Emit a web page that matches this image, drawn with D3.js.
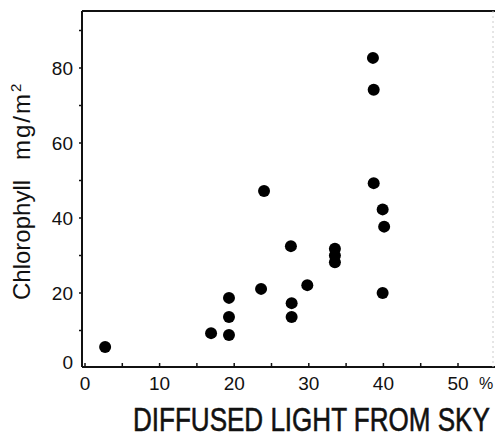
<!DOCTYPE html>
<html><head><meta charset="utf-8">
<script src="https://cdn.jsdelivr.net/npm/d3@7"></script>
<style>body{margin:0;background:#fff}svg{display:block}</style>
</head><body>
<svg id="c" width="495" height="441"></svg>
<script>
const lightPct = [2.7, 16.9, 19.3, 19.3, 19.3, 23.6, 24.0, 27.6, 27.7, 27.7, 29.8, 33.5, 33.5, 33.5, 38.6, 38.7, 38.7, 39.9, 40.1, 39.9];
const chlorophyll = [5.6, 9.3, 18.7, 13.6, 8.8, 21.1, 47.2, 32.5, 17.3, 13.6, 22.1, 31.8, 30.0, 28.2, 82.7, 74.2, 49.3, 42.3, 37.7, 20.0];
const xTickLabels = ["0", "10", "20", "30", "40", "50"];
const yTickLabels = ["0", "20", "40", "60", "80"];

const svg = d3.select("#c");
const x = d3.scaleLinear().domain([0, 50]).range([85, 458]);
const y = d3.scaleLinear().domain([0, 80]).range([368, 68]);
const L = 82, T = 11, B = 367, R = 493;
const font = "'Liberation Sans', Arial, sans-serif";

// frame
svg.append("line").attr("x1", L).attr("x2", 495).attr("y1", T).attr("y2", T).attr("stroke", "#111").attr("stroke-width", 2);
svg.append("line").attr("x1", L).attr("x2", L).attr("y1", T).attr("y2", B).attr("stroke", "#111").attr("stroke-width", 2);
svg.append("line").attr("x1", L).attr("x2", 495).attr("y1", B).attr("y2", B).attr("stroke", "#111").attr("stroke-width", 2);
svg.append("line").attr("x1", R).attr("x2", R).attr("y1", T).attr("y2", B).attr("stroke", "#ccc").attr("stroke-width", 1).attr("stroke-dasharray", "2,3");

// x ticks
const xt = d3.range(0, 55, 5);
svg.selectAll(".xt").data(xt).enter().append("line")
  .attr("x1", d => x(d)).attr("x2", d => x(d)).attr("y1", B).attr("y2", B - 4)
  .attr("stroke", "#111").attr("stroke-width", 1.5);
svg.selectAll(".xl").data(xTickLabels).enter().append("text")
  .attr("x", d => x(+d)).attr("y", 390).attr("text-anchor", "middle")
  .attr("font-family", font).attr("font-size", 19).attr("fill", "#111").text(d => d);
svg.append("text").attr("x", 479).attr("y", 389).attr("font-family", font).attr("font-size", 16).attr("fill", "#111").text("%");

// y ticks
const yt = d3.range(10, 100, 10);
svg.selectAll(".yt").data(yt).enter().append("line")
  .attr("x1", L).attr("x2", L - 3).attr("y1", d => y(d)).attr("y2", d => y(d))
  .attr("stroke", "#111").attr("stroke-width", 1.5);
svg.selectAll(".yl").data(yTickLabels).enter().append("text")
  .attr("x", 73).attr("y", d => +d === 0 ? y(0) + 1 : y(+d) + 7).attr("text-anchor", "end")
  .attr("font-family", font).attr("font-size", 19).attr("fill", "#111").text(d => d);

// points
const pts = lightPct.map((v, i) => ({ x: v, y: chlorophyll[i] }));
svg.selectAll(".pt").data(pts).enter().append("circle")
  .attr("cx", d => x(d.x)).attr("cy", d => y(d.y)).attr("r", 6).attr("fill", "#000");

// x title (condensed by horizontal scaling)
const xg = svg.append("g");
const xTitle = xg.append("text").attr("x", 0).attr("y", 0)
  .attr("font-family", font).attr("font-size", 34).attr("fill", "#111")
  .attr("stroke", "#111").attr("stroke-width", 0.6)
  .text("DIFFUSED LIGHT FROM SKY");
const natW = xTitle.node().getComputedTextLength();
xg.attr("transform", `translate(133,431) scale(${357 / natW},1)`);

// y title
const yt1 = svg.append("text").attr("transform", "translate(30,300) rotate(-90)")
  .attr("font-family", font).attr("font-size", 24).attr("fill", "#111");
yt1.append("tspan").attr("x", 0).text("Chlorophyll");
yt1.append("tspan").attr("x", 140).attr("textLength", 66).text("mg/m");
yt1.append("tspan").attr("dy", -9).attr("font-size", 15).text("2");
</script>
</body></html>
